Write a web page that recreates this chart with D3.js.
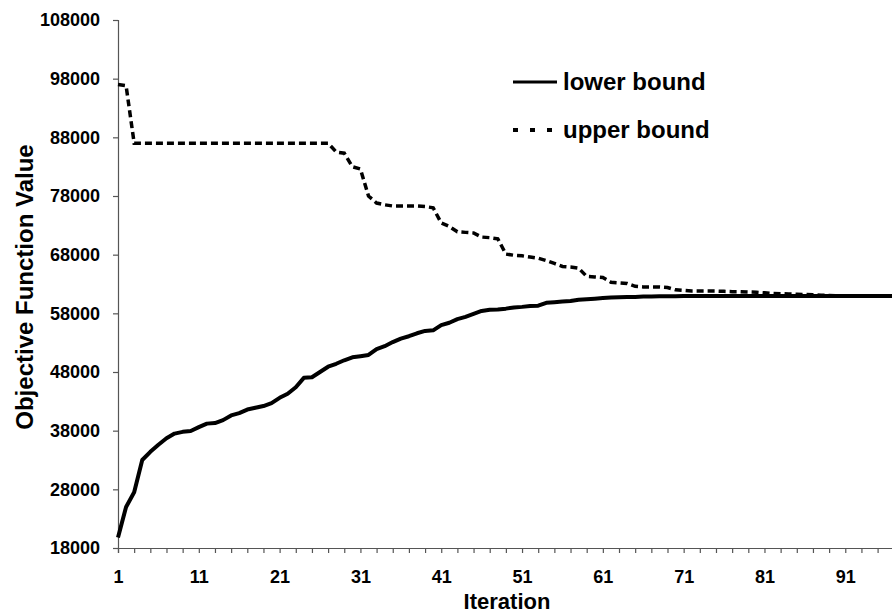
<!DOCTYPE html>
<html>
<head>
<meta charset="utf-8">
<script src="https://d3js.org/d3.v7.min.js"></script>
<style>
    body { margin: 0; background: #fff; }
    text { font-family: "Liberation Sans", Arial, sans-serif; font-weight: bold; }
</style>
</head>
<body>
<div id="chart"></div>
<script>
// iterations shown in the picture (the chart is cut at the right edge)
var iterations = d3.range(1, 98);

var lowerBound = [19800, 25000, 27500, 33000, 34400, 35600, 36700, 37500, 37800, 37950,
    38600, 39200, 39300, 39800, 40600, 41000, 41600, 41900, 42200, 42700,
    43600, 44300, 45400, 47000, 47100, 48000, 48900, 49400, 50000, 50500,
    50700, 50900, 51900, 52400, 53100, 53700, 54100, 54600, 55000, 55100,
    56000, 56400, 57000, 57400, 57900, 58400, 58600, 58650, 58800, 59000,
    59100, 59250, 59300, 59800, 59900, 60000, 60100, 60300, 60400, 60500,
    60600, 60700, 60750, 60800, 60800, 60850, 60850, 60900, 60900, 60900,
    60950, 60950, 60950, 60950, 60950, 60950, 60950, 60950, 60950, 60950,
    60950, 60950, 60950, 60950, 60950, 60950, 60950, 60950, 60950, 60950,
    60950, 60950, 60950, 60950, 60950, 60950, 60950];

var upperBound = [97000, 96800, 87000, 87000, 87000, 87000, 87000, 87000, 87000, 87000,
    87000, 87000, 87000, 87000, 87000, 87000, 87000, 87000, 87000, 87000,
    87000, 87000, 87000, 87000, 87000, 87000, 87000, 85500, 85300, 83000,
    82600, 78000, 76800, 76500, 76300, 76300, 76300, 76300, 76200, 76000,
    73400, 72800, 71900, 71800, 71700, 71000, 70900, 70700, 68100, 67900,
    67800, 67600, 67400, 67000, 66500, 66000, 65900, 65700, 64300, 64200,
    64100, 63300, 63200, 63100, 62600, 62500, 62500, 62500, 62400, 62000,
    61900, 61800, 61800, 61800, 61800, 61750, 61700, 61700, 61650, 61600,
    61500, 61400, 61350, 61300, 61250, 61200, 61150, 61100, 61050, 61000,
    60950, 60950, 60950, 60950, 60950, 60950, 60950];

var yTicks = [18000, 28000, 38000, 48000, 58000, 68000, 78000, 88000, 98000, 108000];
var xLabels = [1, 11, 21, 31, 41, 51, 61, 71, 81, 91];
var seriesNames = ["lower bound", "upper bound"];

var width = 892, height = 616;
var plotLeft = 118, plotTop = 20, plotBottom = 548;

var svg = d3.select("#chart")
    .append("svg")
    .attr("width", width)
    .attr("height", height);

svg.append("rect").attr("width", width).attr("height", height).attr("fill", "#fff");

// x spans iterations 1..100, the right part falls outside the picture
var x = d3.scaleLinear().domain([1, 100]).range([plotLeft, 918]);
var y = d3.scaleLinear().domain([18000, 108000]).range([plotBottom, plotTop]);

// x axis: small tick every 2 iterations, label every 10
var xAxis = svg.append("g")
    .attr("transform", "translate(0," + plotBottom + ")")
    .call(d3.axisBottom(x)
        .tickValues(d3.range(1, 101, 2))
        .tickSize(5)
        .tickPadding(17)
        .tickFormat(function (d) {
            return xLabels.indexOf(d) >= 0 ? d : "";
        }));
xAxis.selectAll("text").attr("font-size", 18).attr("fill", "#000");

var yAxis = svg.append("g")
    .attr("transform", "translate(" + plotLeft + ",0)")
    .call(d3.axisLeft(y)
        .tickValues(yTicks)
        .tickSize(5)
        .tickPadding(13)
        .tickFormat(d3.format("d")));
yAxis.selectAll("text").attr("font-size", 18).attr("fill", "#000");

svg.selectAll(".domain, .tick line").attr("stroke", "#555").attr("stroke-width", 1.2);

// axis titles
svg.append("text")
    .attr("x", 507)
    .attr("y", 609)
    .attr("text-anchor", "middle")
    .attr("font-size", 22)
    .text("Iteration");

svg.append("text")
    .attr("transform", "translate(33,287) rotate(-90)")
    .attr("text-anchor", "middle")
    .attr("font-size", 24)
    .text("Objective Function Value");

// lines
var line = d3.line()
    .x(function (d, i) { return x(iterations[i]); })
    .y(function (d) { return y(d); });

svg.append("path")
    .datum(upperBound)
    .attr("fill", "none")
    .attr("stroke", "#000")
    .attr("stroke-width", 3.5)
    .attr("stroke-dasharray", "7,4")
    .attr("d", line);

svg.append("path")
    .datum(lowerBound)
    .attr("fill", "none")
    .attr("stroke", "#000")
    .attr("stroke-width", 4)
    .attr("stroke-linejoin", "round")
    .attr("d", line);

// legend
var legend = svg.selectAll(".legend")
    .data(seriesNames)
    .enter().append("g")
    .attr("class", "legend")
    .attr("transform", function (d, i) {
        return "translate(513," + (82 + i * 48) + ")";
    });

legend.append("line")
    .attr("x1", 0)
    .attr("x2", function (d, i) { return i === 0 ? 44 : 40; })
    .attr("stroke", "#000")
    .attr("stroke-width", function (d, i) { return i === 0 ? 3 : 4; })
    .attr("stroke-dasharray", function (d, i) { return i === 0 ? null : "5,12"; });

legend.append("text")
    .attr("x", 50)
    .attr("dy", "0.35em")
    .attr("font-size", 24)
    .text(function (d) { return d; });
</script>
</body>
</html>
